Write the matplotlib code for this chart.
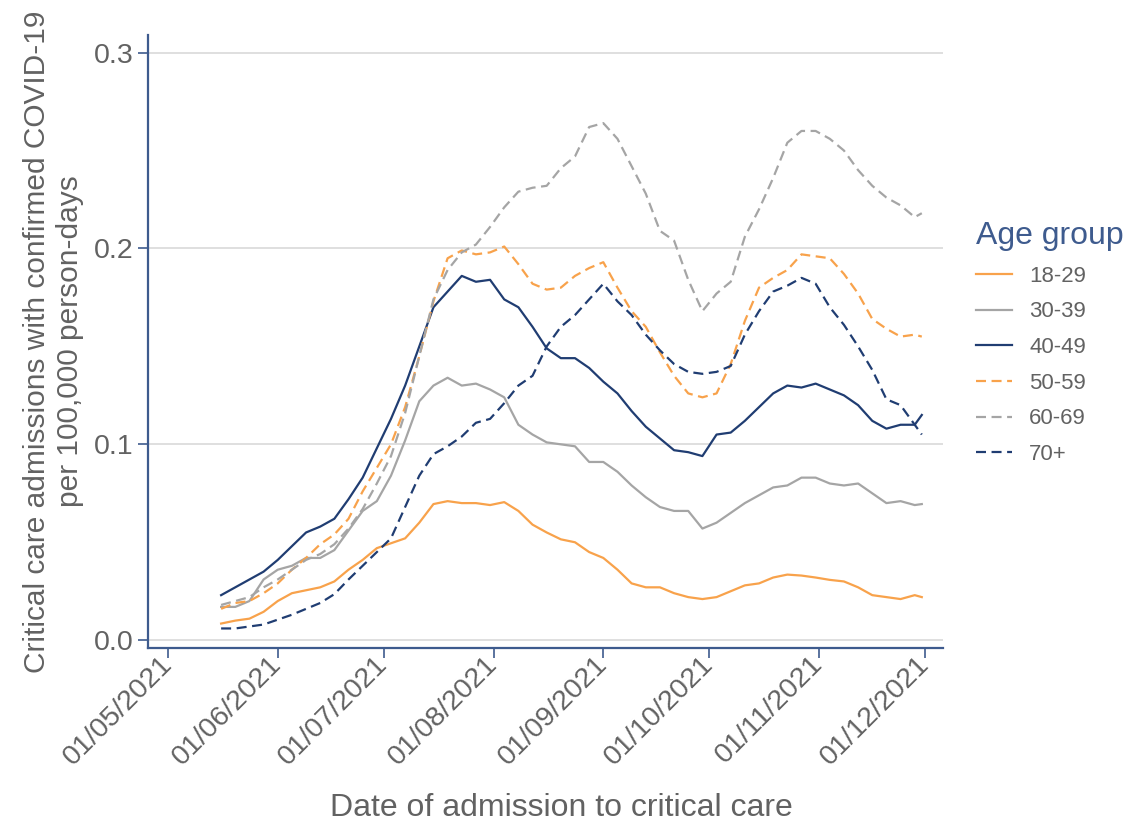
import numpy as np
import pandas as pd
import matplotlib
matplotlib.use("Agg")
import matplotlib.pyplot as plt
import matplotlib.dates as mdates

plt.rcParams['font.family'] = ['Liberation Sans', 'DejaVu Sans']

# dates: every 4 days from 16 May 2021, plus the last day shown
dates = list(pd.date_range('2021-05-16', periods=50, freq='4D')) + [pd.Timestamp('2021-11-30')]

age_groups = ['18-29', '30-39', '40-49', '50-59', '60-69', '70+']

rate_18_29 = [0.0085, 0.010, 0.011, 0.0145, 0.020, 0.024, 0.0255, 0.027, 0.030, 0.036,
              0.041, 0.047, 0.0495, 0.052, 0.060, 0.0695, 0.071, 0.070, 0.070, 0.069,
              0.0705, 0.066, 0.059, 0.055, 0.0515, 0.050, 0.045, 0.042, 0.036, 0.029,
              0.027, 0.027, 0.024, 0.022, 0.021, 0.022, 0.025, 0.028, 0.029, 0.032,
              0.0335, 0.033, 0.032, 0.0308, 0.030, 0.027, 0.023, 0.022, 0.021, 0.023,
              0.022]
rate_30_39 = [0.017, 0.017, 0.020, 0.031, 0.036, 0.038, 0.042, 0.042, 0.046, 0.056,
              0.066, 0.071, 0.084, 0.102, 0.122, 0.130, 0.134, 0.130, 0.131, 0.128,
              0.124, 0.110, 0.105, 0.101, 0.100, 0.099, 0.091, 0.091, 0.086, 0.079,
              0.073, 0.068, 0.066, 0.066, 0.057, 0.060, 0.065, 0.070, 0.074, 0.078,
              0.079, 0.083, 0.083, 0.080, 0.079, 0.080, 0.075, 0.070, 0.071, 0.069,
              0.0695]
rate_40_49 = [0.023, 0.027, 0.031, 0.035, 0.041, 0.048, 0.055, 0.058, 0.062, 0.072,
              0.083, 0.098, 0.113, 0.130, 0.150, 0.170, 0.178, 0.186, 0.183, 0.184,
              0.174, 0.170, 0.160, 0.149, 0.144, 0.144, 0.139, 0.132, 0.126, 0.117,
              0.109, 0.103, 0.097, 0.096, 0.094, 0.105, 0.106, 0.112, 0.119, 0.126,
              0.130, 0.129, 0.131, 0.128, 0.125, 0.120, 0.112, 0.108, 0.110, 0.110,
              0.115]
rate_50_59 = [0.016, 0.019, 0.020, 0.024, 0.029, 0.036, 0.042, 0.049, 0.054, 0.062,
              0.076, 0.088, 0.100, 0.119, 0.145, 0.173, 0.195, 0.199, 0.197, 0.198,
              0.201, 0.192, 0.182, 0.179, 0.180, 0.186, 0.190, 0.193, 0.180, 0.168,
              0.160, 0.147, 0.135, 0.126, 0.124, 0.126, 0.141, 0.163, 0.180, 0.185,
              0.189, 0.197, 0.196, 0.195, 0.187, 0.177, 0.164, 0.159, 0.155, 0.156,
              0.155]
rate_60_69 = [0.018, 0.020, 0.022, 0.027, 0.031, 0.036, 0.041, 0.044, 0.049, 0.057,
              0.067, 0.080, 0.094, 0.116, 0.145, 0.174, 0.189, 0.198, 0.202, 0.211,
              0.221, 0.229, 0.231, 0.232, 0.241, 0.247, 0.262, 0.264, 0.256, 0.242,
              0.228, 0.209, 0.204, 0.184, 0.168, 0.177, 0.183, 0.206, 0.220, 0.236,
              0.254, 0.260, 0.260, 0.256, 0.250, 0.240, 0.232, 0.226, 0.222, 0.216,
              0.218]
rate_70_plus = [0.006, 0.006, 0.007, 0.008, 0.0105, 0.013, 0.016, 0.019, 0.0235, 0.031,
                0.038, 0.045, 0.052, 0.068, 0.084, 0.095, 0.099, 0.104, 0.111, 0.113,
                0.121, 0.130, 0.135, 0.150, 0.160, 0.166, 0.174, 0.182, 0.173, 0.166,
                0.156, 0.148, 0.141, 0.137, 0.136, 0.137, 0.140, 0.156, 0.168, 0.178,
                0.181, 0.185, 0.182, 0.170, 0.161, 0.150, 0.138, 0.123, 0.120, 0.110,
                0.105]

orange = '#F8A24B'
grey = '#A5A5A5'
navy = '#203D72'
axis_blue = '#3E5B8E'
text_grey = '#626262'

series = [
    (rate_18_29, orange, '-'),
    (rate_30_39, grey, '-'),
    (rate_40_49, navy, '-'),
    (rate_50_59, orange, (0, (4.5, 2.5))),
    (rate_60_69, grey, (0, (4.5, 2.5))),
    (rate_70_plus, navy, (0, (4.5, 2.5))),
]

fig = plt.figure(figsize=(11.34, 8.27), dpi=100)
ax = fig.add_axes([0.1305, 0.2164, 0.7011, 0.7413])

for (vals, col, ls), name in zip(series, age_groups):
    ax.plot(dates, vals, color=col, linestyle=ls, linewidth=1.6, label=name)

ax.set_xlim(pd.Timestamp('2021-04-25 08:00'), pd.Timestamp('2021-12-06'))
ax.set_ylim(-0.004, 0.309)
ax.set_yticks([0.0, 0.1, 0.2, 0.3])
ax.yaxis.set_major_formatter(matplotlib.ticker.FormatStrFormatter('%.1f'))
ax.xaxis.set_major_locator(mdates.MonthLocator())
ax.xaxis.set_major_formatter(mdates.DateFormatter('%d/%m/%Y'))

ax.grid(axis='y', color='#D9D9D9', linewidth=1.2)
ax.set_axisbelow(True)
for s in ['top', 'right']:
    ax.spines[s].set_visible(False)
for s in ['left', 'bottom']:
    ax.spines[s].set_color(axis_blue)
    ax.spines[s].set_linewidth(1.6)

ax.tick_params(axis='both', colors=axis_blue, length=7, width=1.2,
               labelsize=20.5, labelcolor=text_grey)
ax.tick_params(axis='x', pad=2)
plt.setp(ax.get_xticklabels(), rotation=45, ha='right', va='center',
         rotation_mode='anchor')

ax.set_xlabel('Date of admission to critical care', fontsize=23, color=text_grey)
ax.xaxis.set_label_coords(0.52, -0.236)
ax.set_ylabel('Critical care admissions with confirmed COVID-19\nper 100,000 person-days',
              fontsize=21.5, color=text_grey, linespacing=1.25)
ax.yaxis.set_label_coords(-0.08, 0.5)

leg = ax.legend(loc='upper left', bbox_to_anchor=(0.843, 0.757),
                bbox_transform=fig.transFigure, frameon=False, alignment='left',
                title='Age group', fontsize=16, handlelength=1.6,
                labelspacing=0.66, handletextpad=0.8, labelcolor=text_grey)
leg.get_title().set_fontsize(23)
leg.get_title().set_color(axis_blue)

fig.savefig('out.png', dpi=100)
